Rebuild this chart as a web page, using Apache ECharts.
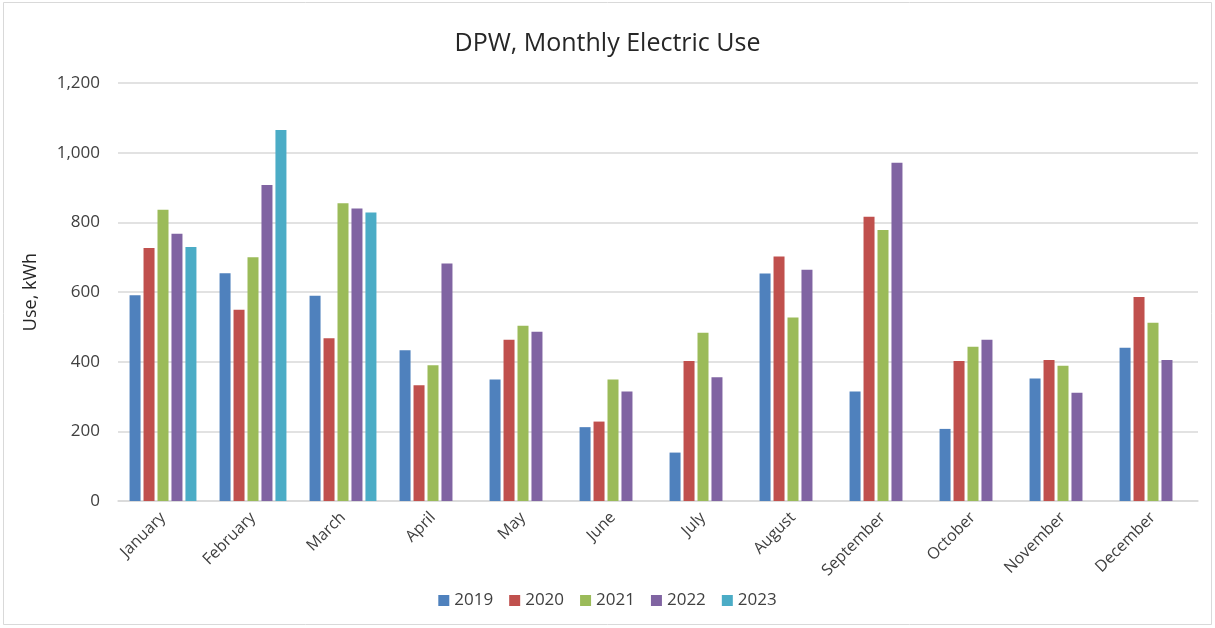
<!DOCTYPE html>
<html>
<head>
<meta charset="utf-8">
<title>DPW, Monthly Electric Use</title>
<script src="https://cdn.jsdelivr.net/npm/echarts@6/dist/echarts.min.js"></script>
<style>
  html, body { margin: 0; padding: 0; background: #ffffff; }
  #chart { width: 1215px; height: 628px; }
</style>
</head>
<body>
<div id="chart"></div>
<script>
// Monthly electric use (kWh) by year
const months = ['January', 'February', 'March', 'April', 'May', 'June',
  'July', 'August', 'September', 'October', 'November', 'December'];
const years = ['2019', '2020', '2021', '2022', '2023'];
const use2019 = [591, 654, 589, 433, 349, 212, 139, 653, 314, 207, 352, 440];
const use2020 = [726, 549, 467, 332, 463, 228, 402, 702, 816, 402, 405, 586];
const use2021 = [836, 700, 855, 390, 503, 349, 483, 527, 778, 443, 388, 512];
const use2022 = [767, 907, 840, 682, 486, 314, 355, 664, 971, 463, 311, 405];
const use2023 = [729, 1065, 828, null, null, null, null, null, null, null, null, null];
const yTicks = [0, 200, 400, 600, 800, 1000, 1200];

const seriesValues = [use2019, use2020, use2021, use2022, use2023];
const palette = ['#4F81BD', '#C0504D', '#9BBB59', '#8064A2', '#4BACC6'];
const FONT = '"Open Sans", "Liberation Sans", sans-serif';

const chart = echarts.init(document.getElementById('chart'), null, { renderer: 'canvas' });

chart.setOption({
  animation: false,
  backgroundColor: '#ffffff',
  color: palette,
  graphic: [{
    type: 'rect',
    shape: { x: 3.5, y: 2.5, width: 1208, height: 622 },
    style: { fill: 'none', stroke: '#d9d9d9', lineWidth: 1 },
    silent: true
  }],
  title: {
    text: 'DPW, Monthly Electric Use',
    left: 'center',
    top: 26,
    textStyle: { fontFamily: FONT, fontSize: 25, fontWeight: 'normal', color: '#262626' }
  },
  legend: {
    data: years,
    bottom: 14,
    left: 'center',
    icon: 'rect',
    itemWidth: 11,
    itemHeight: 11,
    itemGap: 16,
    textStyle: { fontFamily: FONT, fontSize: 17, color: '#404040' }
  },
  grid: { left: 118, right: 17, top: 83, bottom: 127, containLabel: false },
  xAxis: {
    type: 'category',
    data: months,
    axisLine: { lineStyle: { color: '#d9d9d9', width: 1.5 } },
    axisTick: { show: false },
    axisLabel: {
      rotate: 45,
      margin: 14,
      interval: 0,
      fontFamily: FONT,
      fontSize: 16,
      color: '#404040'
    }
  },
  yAxis: {
    type: 'value',
    min: yTicks[0],
    max: yTicks[yTicks.length - 1],
    interval: yTicks[1] - yTicks[0],
    name: 'Use, kWh',
    nameLocation: 'middle',
    nameGap: 78,
    nameTextStyle: { fontFamily: FONT, fontSize: 18, color: '#262626' },
    axisLine: { show: false },
    axisTick: { show: false },
    splitLine: { lineStyle: { color: '#d9d9d9', width: 1.5 } },
    axisLabel: {
      margin: 18,
      fontFamily: FONT,
      fontSize: 17,
      color: '#404040',
      formatter: v => v.toLocaleString('en-US')
    }
  },
  series: years.map((y, i) => ({
    name: y,
    type: 'bar',
    data: seriesValues[i],
    barWidth: 11,
    barGap: '27%',
    itemStyle: { color: palette[i] }
  }))
});
</script>
</body>
</html>
